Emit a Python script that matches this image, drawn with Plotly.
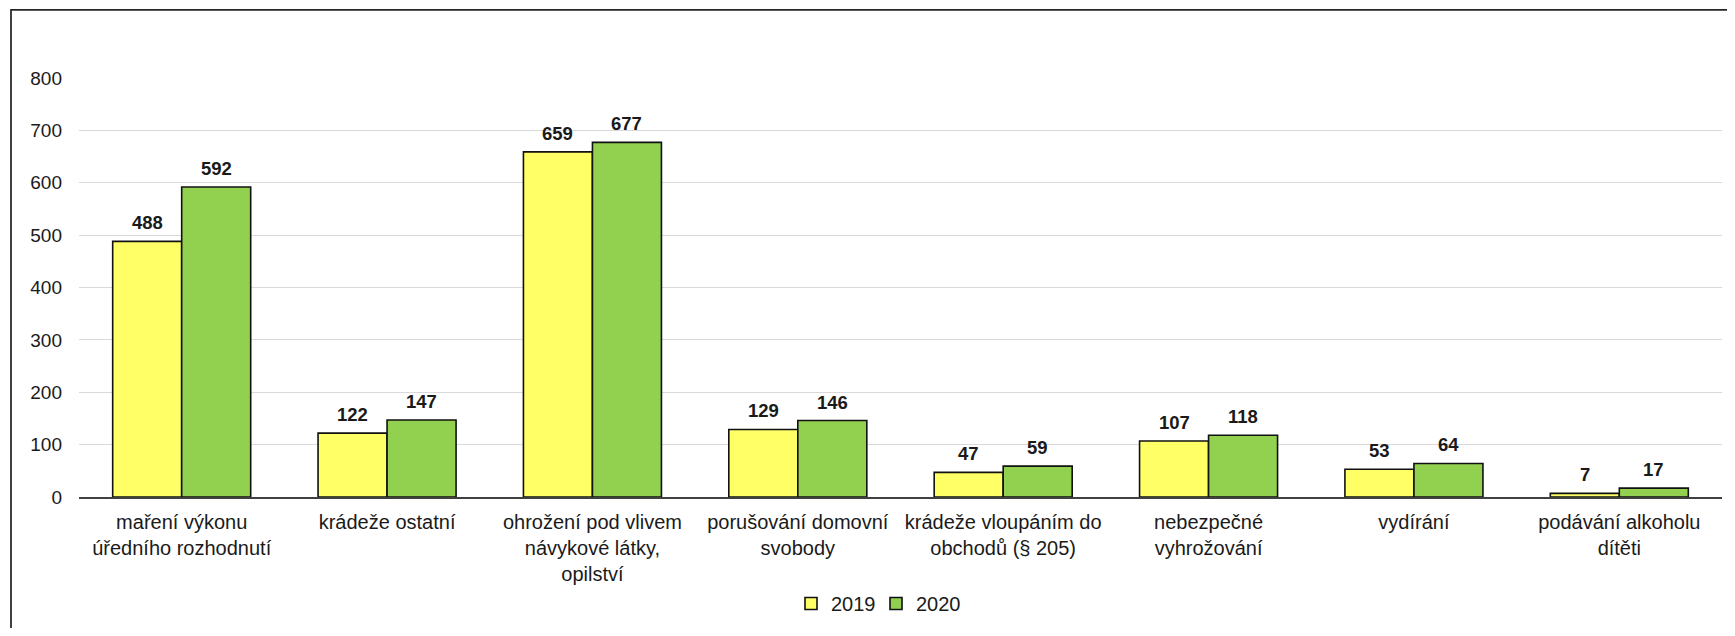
import plotly.graph_objects as go

categories = [
    "maření výkonu<br>úředního rozhodnutí",
    "krádeže ostatní",
    "ohrožení pod vlivem<br>návykové látky,<br>opilství",
    "porušování domovní<br>svobody",
    "krádeže vloupáním do<br>obchodů (§ 205)",
    "nebezpečné<br>vyhrožování",
    "vydírání",
    "podávání alkoholu<br>dítěti",
]
values_2019 = [488, 122, 659, 129, 47, 107, 53, 7]
values_2020 = [592, 147, 677, 146, 59, 118, 64, 17]
series_names = ["2019", "2020"]
y_ticks = [0, 100, 200, 300, 400, 500, 600, 700, 800]

# page body has an 8px margin, so the figure is sized to fit the window
W, H = 1719, 620
ML, MR, MT, MB = 71, 5, 70, 125
plot_w = W - ML - MR
plot_h = H - MT - MB

FONT = "Liberation Sans, Arial, sans-serif"
TXT = "#1a1a1a"

fig = go.Figure()
colors = ["#FFFF66", "#92D050"]
for name, vals, col in zip(series_names, [values_2019, values_2020], colors):
    fig.add_trace(go.Bar(
        name=name, x=categories, y=vals,
        marker=dict(color=col, line=dict(color="#111111", width=1.6)),
    ))

# data labels
bargap = 0.328
group_w = plot_w / len(categories) * (1 - bargap)
bar_w = group_w / 2
for i, vals in enumerate([values_2019, values_2020]):
    shift = (i - 0.5) * bar_w
    for c, v in zip(categories, vals):
        fig.add_annotation(
            x=c, y=v, xref="x", yref="y", text=f"<b>{v}</b>",
            showarrow=False, yanchor="bottom", xshift=shift, yshift=6,
            font=dict(family=FONT, size=18.5, color=TXT),
        )

# outer chart border (right and bottom edges lie outside the picture)
fig.add_shape(
    type="rect", xref="paper", yref="paper",
    x0=(3 - ML) / plot_w, x1=1.2,
    y0=-0.6, y1=(plot_h + MT - 1) / plot_h,
    line=dict(color="#262626", width=1.75), fillcolor="rgba(0,0,0,0)", layer="above",
)

fig.update_layout(
    width=W, height=H,
    margin=dict(l=ML, r=MR, t=MT, b=MB),
    paper_bgcolor="white", plot_bgcolor="white",
    barmode="group", bargap=bargap, bargroupgap=0,
    font=dict(family=FONT, size=20, color=TXT),
    showlegend=True,
    legend=dict(
        orientation="h", x=(791 - 8 - ML) / plot_w, xanchor="left",
        y=(plot_h + MT - 603) / plot_h, yanchor="middle",
        font=dict(family=FONT, size=20, color=TXT),
        itemwidth=30, entrywidth=40, traceorder="normal",
        bgcolor="rgba(0,0,0,0)",
    ),
)
fig.update_xaxes(
    showgrid=False, showline=True, linecolor="#404040", linewidth=1.5,
    ticks="", ticklabelstandoff=6, tickfont=dict(family=FONT, size=20, color=TXT),
    tickangle=0,
)
fig.update_yaxes(
    range=[0, 800], tickvals=y_ticks, showgrid=True, gridcolor="#D9D9D9", gridwidth=1.3,
    zeroline=False, showline=False, ticks="", ticklabelstandoff=16,
    tickfont=dict(family=FONT, size=19, color=TXT),
)

fig.write_html("out.html")
